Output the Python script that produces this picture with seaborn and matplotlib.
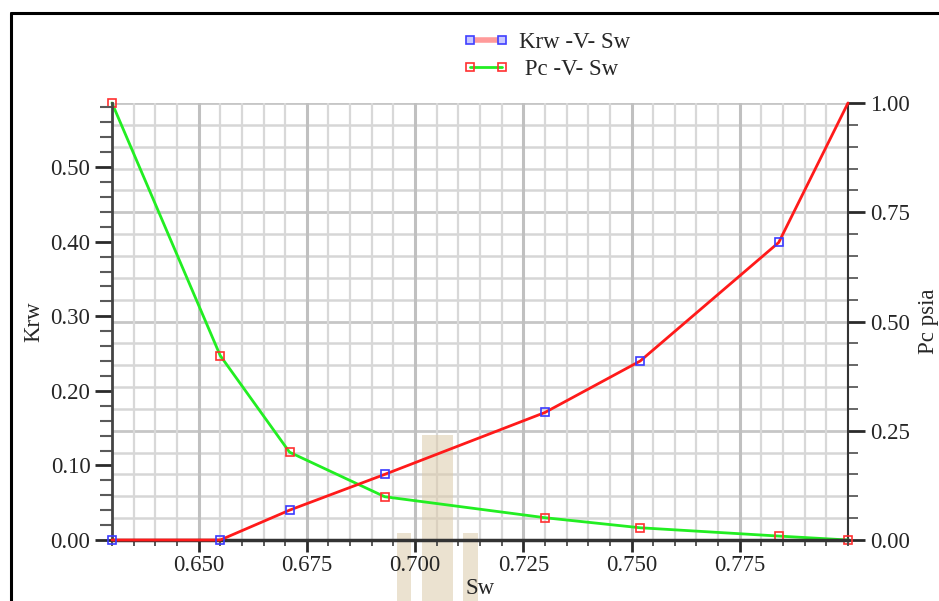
import numpy as np
import matplotlib
matplotlib.use('Agg')
import matplotlib.pyplot as plt
import seaborn as sns
from matplotlib.lines import Line2D
from matplotlib.patches import Rectangle
from matplotlib.ticker import MultipleLocator, FixedLocator, FormatStrFormatter

# ---- data ----
sw = [0.630, 0.655, 0.671, 0.693, 0.730, 0.752, 0.784, 0.800]
krw = [0.000, 0.000, 0.040, 0.088, 0.171, 0.240, 0.399, 0.586]
pc = [1.000, 0.422, 0.201, 0.099, 0.051, 0.028, 0.009, 0.000]
x_ticks = [0.650, 0.675, 0.700, 0.725, 0.750, 0.775]
krw_ticks = [0.00, 0.10, 0.20, 0.30, 0.40, 0.50]
pc_ticks = [0.00, 0.25, 0.50, 0.75, 1.00]
krw_label = 'Krw -V- Sw'
pc_label = ' Pc -V- Sw'

sns.set_style('ticks')
plt.rcParams['font.family'] = ['Liberation Serif', 'DejaVu Serif']
FS = 16.5

W, H = 939, 601
fig = plt.figure(figsize=(W / 100, H / 100), dpi=100)
fig.patch.set_facecolor('white')
ax1 = fig.add_axes([112 / W, 61 / H, 736 / W, 437 / H])
ax2 = ax1.twinx()
ax1.set_zorder(2)
ax2.set_zorder(1)
ax1.patch.set_visible(False)

xmin, xmax = 0.630, 0.800
ax1.set_xlim(xmin, xmax)
ax1.set_ylim(0, 0.586)
ax2.set_ylim(0, 1.0)

# ---- grid (drawn on the lower axes so that the curves sit above it) ----
ax2.set_axisbelow(True)
ax2.yaxis.set_major_locator(FixedLocator(pc_ticks))
ax2.yaxis.set_minor_locator(MultipleLocator(0.05))
ax2.grid(which='major', axis='y', color='#c6c6c6', lw=2.0, zorder=0.5)
ax2.grid(which='minor', axis='y', color='#d6d6d6', lw=1.8, zorder=0.5)
for v in np.arange(xmin, xmax + 1e-9, 0.005):
    major = any(abs(v - t) < 1e-6 for t in x_ticks)
    ax2.axvline(v, color='#c0c0c0' if major else '#d8d8d8',
                lw=2.2 if major else 1.6, zorder=0.6)

# ---- watermark ----
wm = [(421.7, 435, 453.3, 601), (397, 533, 411, 601), (463, 533, 478, 601)]
for x0, y0, x1, y1 in wm:
    ax2.add_patch(Rectangle((x0 / W, 1 - y1 / H), (x1 - x0) / W, (y1 - y0) / H,
                            transform=fig.transFigure, clip_on=False,
                            facecolor='#dccbab', edgecolor='none', alpha=0.55,
                            zorder=1.2))

# ---- curves ----
sns.lineplot(x=sw, y=pc, ax=ax2, color='#22ee22', lw=2.0, marker='s',
             markersize=5.5, markerfacecolor='none', markeredgecolor='#ff3030',
             markeredgewidth=1.2, sort=False, zorder=3, clip_on=False)
sns.lineplot(x=sw, y=krw, ax=ax1, color='#ff1a1a', lw=2.0, marker='s',
             markersize=6, markerfacecolor='none', markeredgecolor='#3a3aff',
             markeredgewidth=1.2, sort=False, zorder=3, clip_on=False,
             markevery=list(range(len(sw) - 1)))

# ---- axes / ticks ----
ax1.xaxis.set_major_locator(FixedLocator(x_ticks))
ax1.xaxis.set_minor_locator(MultipleLocator(0.005))
ax1.xaxis.set_major_formatter(FormatStrFormatter('%.3f'))
ax1.yaxis.set_major_locator(FixedLocator(krw_ticks))
ax1.yaxis.set_minor_locator(MultipleLocator(0.02))
ax1.yaxis.set_major_formatter(FormatStrFormatter('%.2f'))
ax2.yaxis.set_major_formatter(FormatStrFormatter('%.2f'))

ax1.tick_params(axis='y', which='major', direction='out', length=12, width=2,
                color='#2a2a2a', labelsize=FS, pad=3.5, left=True)
ax1.tick_params(axis='y', which='minor', direction='out', length=8.5, width=1.5,
                color='#5a5a5a', left=True)
ax1.tick_params(axis='x', which='major', direction='out', length=8.5, width=2,
                color='#2a2a2a', labelsize=FS, pad=2, bottom=True)
ax1.tick_params(axis='x', which='minor', direction='out', length=4.3, width=1.3,
                color='#4a4a4a', bottom=True)
ax2.tick_params(axis='y', which='major', direction='out', length=12.5, width=2,
                color='#2a2a2a', labelsize=FS, pad=3.5, right=True)
ax2.tick_params(axis='y', which='minor', direction='out', length=7.5, width=1.3,
                color='#5a5a5a', right=True)

for s in ['top', 'right']:
    ax1.spines[s].set_visible(False)
for s in ['top', 'left', 'bottom']:
    ax2.spines[s].set_visible(False)
ax1.spines['left'].set_color('#444444')
ax1.spines['left'].set_linewidth(2.0)
ax1.spines['bottom'].set_color('#333333')
ax1.spines['bottom'].set_linewidth(2.5)
ax2.spines['right'].set_color('#333333')
ax2.spines['right'].set_linewidth(1.5)

ax1.set_xlabel('Sw', fontsize=FS, labelpad=1.5)
ax1.set_ylabel('Krw', fontsize=FS, labelpad=4.5)
ax2.set_ylabel('Pc psia', fontsize=FS, labelpad=6)

# ---- legend ----
handles = [
    Line2D([], [], color='#ff9a9a', lw=4, marker='s', ms=6, mfc='#c8c8ff',
           mec='#4040ff', mew=1.2),
    Line2D([], [], color='#22ee22', lw=2, marker='s', ms=6, mfc='none',
           mec='#ff3030', mew=1.2),
]
fig.legend(handles, [krw_label, pc_label], loc='upper left',
           bbox_to_anchor=(463 / W, 1 - 32 / H), frameon=False, fontsize=FS,
           handlelength=2.0, handletextpad=0.45, labelspacing=0.25, numpoints=2,
           borderpad=0, borderaxespad=0)

# ---- page border ----
fig.add_artist(Line2D([11 / W, 11 / W], [0, 1 - 13 / H], transform=fig.transFigure,
                      color='black', lw=2.2))
fig.add_artist(Line2D([11 / W, 1], [1 - 13 / H, 1 - 13 / H], transform=fig.transFigure,
                      color='black', lw=2.2))

fig.savefig('out.png', dpi=100)
